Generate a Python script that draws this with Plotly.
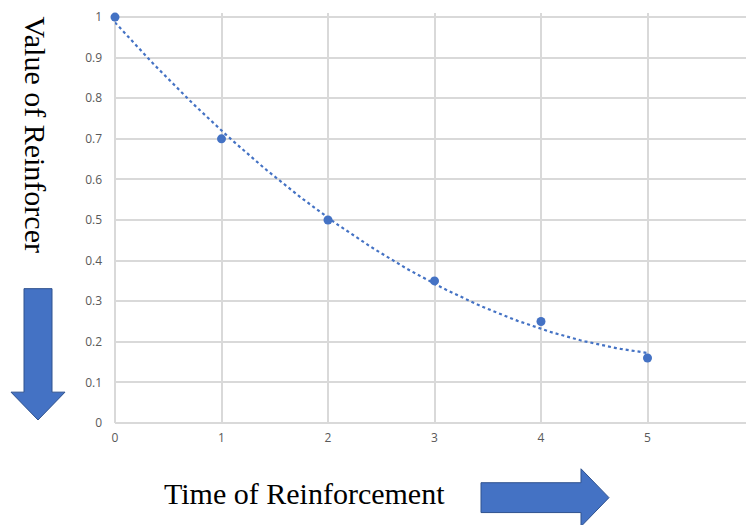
import numpy as np
import plotly.graph_objects as go

# ---- data ----
time_vals = [0, 1, 2, 3, 4, 5]
reinforcer_vals = [1.0, 0.7, 0.5, 0.35, 0.25, 0.16]
x_tick_vals = [0, 1, 2, 3, 4, 5, 6]
x_tick_text = ["0", "1", "2", "3", "4", "5", "6"]
y_tick_vals = [0, 0.1, 0.2, 0.3, 0.4, 0.5, 0.6, 0.7, 0.8, 0.9, 1.0]
y_tick_text = ["0", "0.1", "0.2", "0.3", "0.4", "0.5", "0.6", "0.7", "0.8", "0.9", "1"]
x_title = "Time of Reinforcement"
y_title = "Value of Reinforcer"

# polynomial (order 2) trendline, as in the spreadsheet chart
coef = np.polyfit(time_vals, reinforcer_vals, 2)
trend_x = np.linspace(min(time_vals), max(time_vals), 120)
trend_y = np.polyval(coef, trend_x)

# the page body has an 8px margin; size the figure so it fills the window
OFF = 8
Y_TOP = 1.01                      # a little headroom so the y=1 gridline is drawn
W, H = 754 - OFF, 525 - OFF
L, R, B = 115 - OFF, 0, 102
PH = round((423 - 15) * Y_TOP)
T = H - B - PH
PW = W - L - R


def px(x, y):
    """page pixel -> paper coords"""
    return (x - OFF - L) / PW, (H - B - (y - OFF)) / PH


def path(points):
    pts = [px(x, y) for x, y in points]
    return "M " + " L ".join(f"{a:.5f},{b:.5f}" for a, b in pts) + " Z"


BLUE = "#4472C4"
grid = "#d9d9d9"
tick_font = dict(family="Open Sans", size=12, color="#595959")

fig = go.Figure()
fig.add_trace(go.Scatter(x=trend_x, y=trend_y, mode="lines",
                         line=dict(color=BLUE, width=2.2, dash="dot"),
                         hoverinfo="skip", showlegend=False, cliponaxis=False))
fig.add_trace(go.Scatter(x=time_vals, y=reinforcer_vals, mode="markers",
                         marker=dict(color=BLUE, size=9),
                         showlegend=False, cliponaxis=False))

# gridline at x = 6, sitting on the right edge of the page
gx0, gy0 = px(752, 423)
gx1, gy1 = px(752, 15)
fig.add_shape(type="line", xref="paper", yref="paper", x0=gx0, x1=gx1, y0=gy0, y1=gy1,
              line=dict(color=grid, width=1.5), layer="below")

down_arrow = [(24, 288), (52, 288), (52, 392), (65, 392), (38, 420), (11, 392), (24, 392)]
right_arrow = [(481, 483), (581, 483), (581, 469), (609, 498), (581, 527), (581, 513), (481, 513)]
for pts in (down_arrow, right_arrow):
    fig.add_shape(type="path", xref="paper", yref="paper", path=path(pts),
                  fillcolor=BLUE, line=dict(color="#2F528F", width=1), layer="above")

ax, ay = px(304, 494)
fig.add_annotation(xref="paper", yref="paper", x=ax, y=ay, text=x_title, showarrow=False,
                   xanchor="center", yanchor="middle",
                   font=dict(family="Liberation Serif", size=30, color="black"))
ax, ay = px(36, 133)
fig.add_annotation(xref="paper", yref="paper", x=ax, y=ay, text=y_title, showarrow=False,
                   textangle=90, xanchor="center", yanchor="middle",
                   font=dict(family="Liberation Serif", size=30, color="black"))

fig.update_layout(
    width=W, height=H,
    margin=dict(l=L, r=R, t=T, b=B),
    paper_bgcolor="white", plot_bgcolor="white",
    xaxis=dict(range=[0, 6], tickvals=x_tick_vals, ticktext=x_tick_text,
               showgrid=True, gridcolor=grid, gridwidth=1.5,
               zeroline=True, zerolinecolor=grid, zerolinewidth=1.5,
               showline=False, ticks="", ticklabelstandoff=6,
               tickfont=tick_font),
    yaxis=dict(range=[0, Y_TOP], tickvals=y_tick_vals, ticktext=y_tick_text,
               showgrid=True, gridcolor=grid, gridwidth=1.5,
               zeroline=True, zerolinecolor=grid, zerolinewidth=1.5,
               showline=False, ticks="", ticklabelstandoff=12,
               ticklabeloverflow="allow",
               tickfont=tick_font),
)

fig.write_html("out.html")
